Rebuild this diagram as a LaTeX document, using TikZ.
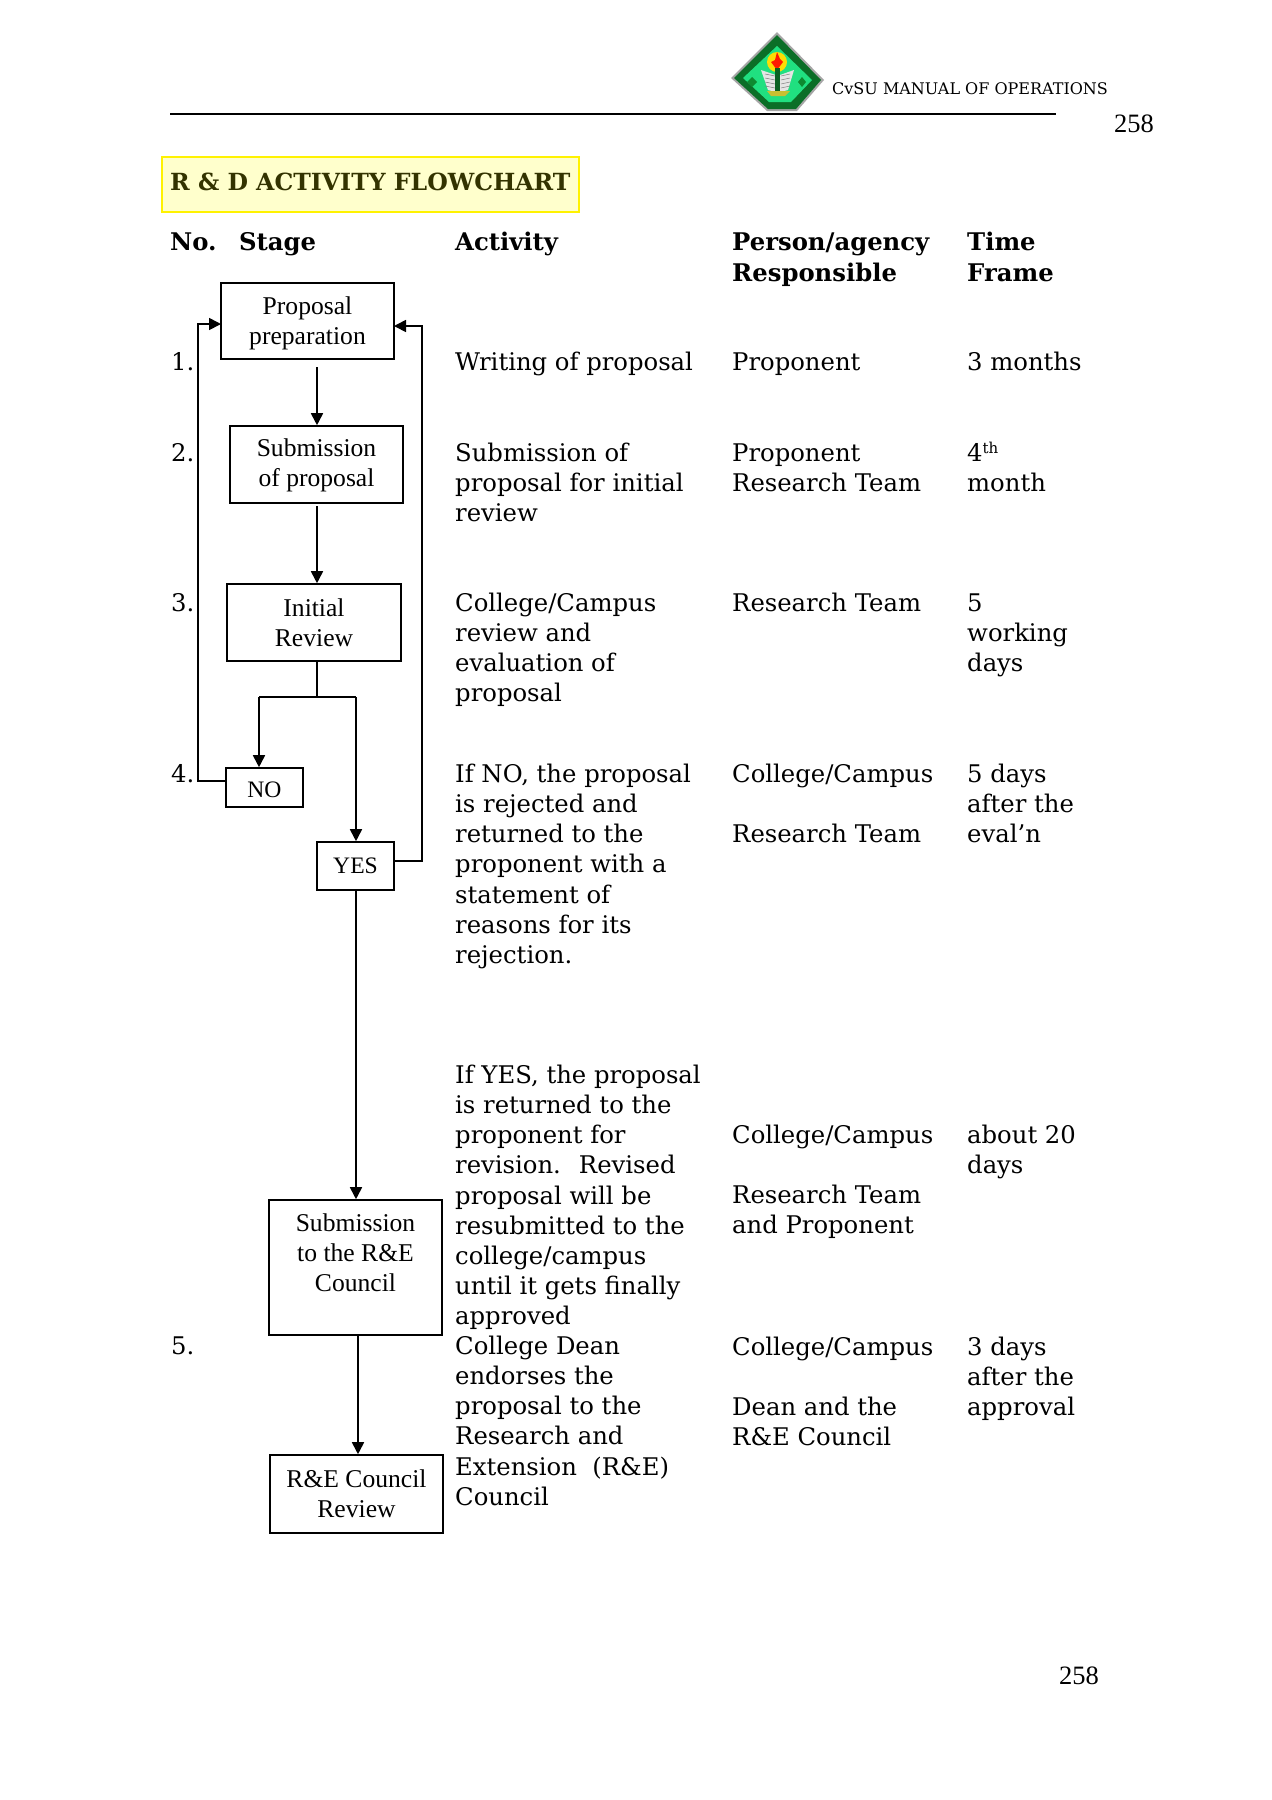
\documentclass[tikz,border=0pt]{standalone}
\usepackage{fontspec}
\setmainfont{DejaVu Serif}
\newfontfamily\timesf{Liberation Serif}
\usetikzlibrary{arrows.meta}
\definecolor{boxfill}{HTML}{FFFFCC}
\definecolor{titlecol}{HTML}{333300}
\definecolor{logog}{HTML}{0E8A30}
\definecolor{logol}{HTML}{20E080}
\newcommand\cell[4]{\node[body] (#1) at (#2,#3-21) {\rule{0pt}{20pt}#4};}
\tikzset{
  x=1pt,y=-1pt,
  body/.style={anchor=north west,inner sep=0,align=left,font=\fontsize{24.3}{30.2}\selectfont},
  head/.style={anchor=base west,inner sep=0,align=left,font=\fontsize{24.3}{31}\selectfont\bfseries},
  stagebox/.style={draw,line width=1.6pt,inner sep=0,align=center,font=\fontsize{25.6}{30}\selectfont\timesf},
  smallbox/.style={stagebox,font=\fontsize{23.6}{30}\selectfont\timesf},
  conn/.style={line width=1.7pt},
  arr/.style={line width=1.7pt,-{Triangle[length=12pt,width=12pt]}},
}
\begin{document}
\begin{tikzpicture}
\useasboundingbox (0,0) rectangle (1272,1800);
\fill[white] (0,0) rectangle (1272,1800);
% logo
\fill[gray!70] (731,78) -- (777,32) -- (824,80) -- (797,111) -- (767,111) -- cycle;
\fill[logog!80!black] (734,78) -- (777,35) -- (821,80) -- (796,109) -- (768,109) -- cycle;
\fill[logol] (743,78) -- (777,46) -- (812,80) -- (791,102) -- (769,102) -- cycle;
\fill[yellow!80!orange] (777,62) circle (10);
\fill[red!80!orange] (777,70) -- (771,62) -- (775,60) -- (777,52) -- (780,59) -- (783,62) -- cycle;
\fill[white!80!gray] (761,70) -- (776,75) -- (776,92) -- (768,90) -- cycle;
\fill[white!80!gray] (794,70) -- (780,75) -- (780,92) -- (788,90) -- cycle;
\foreach \v in {74,78,82,86}{\draw[gray,line width=.5pt] (765,\v) -- (775,\v+2); \draw[gray,line width=.5pt] (790,\v) -- (781,\v+2);}
\fill[logog!70!black] (775,68) rectangle (780,91);
\fill[yellow!75!black] (767,91) -- (790,91) -- (785,96) -- (771,96) -- cycle;
\fill[logog] (752,77) -- (757,82) -- (752,87) -- (747,82) -- cycle;
\fill[logog] (802,77) -- (806,82) -- (802,87) -- (798,82) -- cycle;
% header
\node[anchor=base west,inner sep=0,font=\fontsize{16}{20}\selectfont] (hdr) at (832,94) {CvSU MANUAL OF OPERATIONS};
\coordinate (ruleA) at (170,114);
\coordinate (ruleB) at (1056,114);
\draw[line width=1.4pt] (ruleA) -- (ruleB);
\node[anchor=base west,inner sep=0,font=\fontsize{26.5}{30}\selectfont\timesf] (pg) at (1114,132) {258};
\node[anchor=base west,inner sep=0,font=\fontsize{26.5}{30}\selectfont\timesf] (pgb) at (1059,1684) {258};
% title
\node[draw=yellow,fill=boxfill,line width=2pt,minimum width=417pt,minimum height=55pt,inner sep=0] (titlebox) at (370.5,184.5) {};
\node[anchor=base west,inner sep=0,text=titlecol,font=\fontsize{23.6}{26}\selectfont\bfseries] (title) at (170,190) {R \& D ACTIVITY FLOWCHART};
% column heads
\node[head] (hno) at (170,250) {No.};
\node[head] (hst) at (239,250) {Stage};
\node[head] (hac) at (455,250) {Activity};
\node[head] (hpe) at (732,250) {Person/agency};
\node[head] (hpf) at (732,281) {Responsible};
\node[head] (hti) at (967,250) {Time};
\node[head] (htf) at (967,281) {Frame};
% numbers
\cell{n1}{171}{371}{1.}
\cell{n2}{171}{462}{2.}
\cell{n3}{171}{612}{3.}
\cell{n4}{171}{783}{4.}
\cell{n5}{171}{1355}{5.}
% activity
\cell{a1}{455}{371}{Writing of proposal}
\cell{a2}{455}{462}{Submission of\\proposal for initial\\review}
\cell{a3}{455}{612}{College/Campus\\review and\\evaluation of\\proposal}
\cell{a4}{455}{783}{If NO, the proposal\\is rejected and\\returned to the\\proponent with a\\statement of\\reasons for its\\rejection.}
\cell{a5}{455}{1084}{If YES, the proposal\\is returned to the\\proponent for\\revision.~ Revised\\proposal will be\\resubmitted to the\\college/campus\\until it gets finally\\approved}
\cell{a6}{455}{1355}{College Dean\\endorses the\\proposal to the\\Research and\\Extension~ (R\&E)\\Council}
% person
\cell{p1}{732}{371}{Proponent}
\cell{p2}{732}{462}{Proponent\\Research Team}
\cell{p3}{732}{612}{Research Team}
\cell{p4}{732}{783}{College/Campus\\[30.2pt]Research Team}
\cell{p5}{732}{1144}{College/Campus\\[30.2pt]Research Team\\and Proponent}
\cell{p6}{732}{1356}{College/Campus\\[30.2pt]Dean and the\\R\&E Council}
% time
\cell{t1}{967}{371}{3 months}
\cell{t2}{967}{462}{4\raisebox{8pt}{\fontsize{15}{15}\selectfont th}\\month}
\cell{t3}{967}{612}{5\\working\\days}
\cell{t4}{967}{783}{5 days\\after the\\eval’n}
\cell{t5}{967}{1144}{about 20\\days}
\cell{t6}{967}{1356}{3 days\\after the\\approval}
% boxes
\node[stagebox,minimum width=173pt,minimum height=76pt] (prop) at (307.5,321) {\rule{0pt}{22pt}Proposal\\preparation};
\node[stagebox,minimum width=173pt,minimum height=77pt] (sub) at (316.5,464.5) {\rule{0pt}{20pt}Submission\\of proposal};
\node[stagebox,minimum width=174pt,minimum height=77pt] (init) at (314,622.5) {Initial\\Review};
\node[smallbox,minimum width=77pt,minimum height=39pt] (no) at (264.5,787.5) {\rule{0pt}{21pt}NO};
\node[smallbox,minimum width=77pt,minimum height=48pt] (yes) at (355.5,866) {YES};
\node[stagebox,minimum width=173pt,minimum height=135pt] (council) at (355.5,1267.5) {Submission\\to the R\&E\\Council\\\rule{0pt}{29pt}};
\node[stagebox,minimum width=173pt,minimum height=78pt] (rev) at (356.5,1494) {R\&E Council\\Review};
% connectors
\coordinate (c1) at (317,367);
\coordinate (c2) at (317,506);
\coordinate (j) at (317,697);
\coordinate (jl) at (259,697);
\coordinate (jr) at (356,697);
\coordinate (c3) at (358,1335);
\draw[arr] (c1) -- (c1 |- sub.north);
\draw[arr] (c2) -- (c2 |- init.north);
\draw[conn] (j |- init.south) -- (j);
\draw[conn] (jl) -- (jr);
\draw[arr] (jl) -- (jl |- no.north);
\draw[arr] (jr) -- (jr |- yes.north);
\draw[arr] (yes.south -| jr) -- (jr |- council.north);
\draw[arr] (c3) -- (c3 |- rev.north);
\coordinate (la) at (226,781);
\coordinate (lb) at (221,324);
\coordinate (ra) at (394,861);
\coordinate (rb) at (394,326);
\draw[arr] (la) -- (198,781) -- (198,324) -- (lb);
\draw[arr] (ra) -- (422,861) -- (422,326) -- (rb);
\end{tikzpicture}
\end{document}
